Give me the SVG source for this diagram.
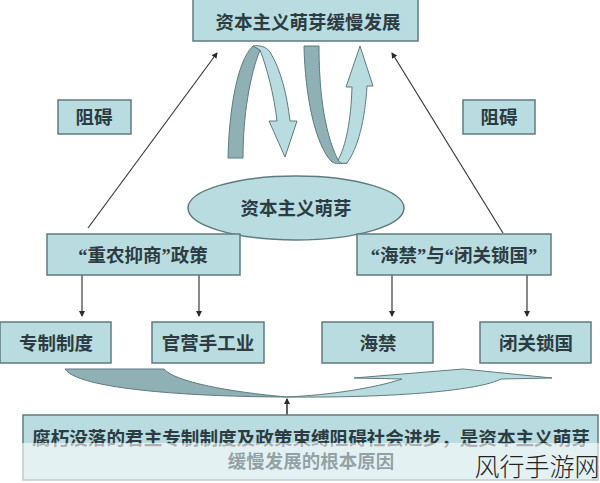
<svg xmlns="http://www.w3.org/2000/svg" width="600" height="483" viewBox="0 0 600 483">
<style>
.b{fill:#b9dce1;stroke:#5f7b80;stroke-width:1.5}
.t{font-family:"Liberation Serif","Noto Sans CJK SC",serif;font-size:18.5px;font-weight:700;fill:#2c3c42;text-anchor:middle}
.l{stroke:#3a3a3a;stroke-width:1.2;fill:none}
.d{fill:#8fb0b5;stroke:#5f7b80;stroke-width:1}
.g{fill:#b9dce1;stroke:#5f7b80;stroke-width:1}
</style>
<defs>
<marker id="a" markerWidth="6" markerHeight="6" refX="5" refY="3" orient="auto" markerUnits="userSpaceOnUse"><path d="M0 0L6 3L0 6Z" fill="#2a2a2a"/></marker>
</defs>
<rect width="600" height="483" fill="#fff"/>
<g id="connectors">
<path class="l" marker-end="url(#a)" d="M88 228L217 53"/>
<path class="l" marker-end="url(#a)" d="M503 233L392 53"/>
<path class="l" marker-end="url(#a)" d="M82 275V316"/>
<path class="l" marker-end="url(#a)" d="M199 275V316"/>
<path class="l" marker-end="url(#a)" d="M392 275V316"/>
<path class="l" marker-end="url(#a)" d="M527 275V316"/>
<path d="M287 415V399" stroke="#222" stroke-width="1.4" fill="none" marker-end="url(#a)"/>
</g>
<g id="curve-left">
<path class="d" d="M228 158C229 115 236 62 253 46L260 50C250 75 243 115 243 158Z"/>
<path class="g" d="M253 46C258 45 266 46 270 52C281 70 287 95 290 121H297L285 157L269 121H277C274 95 267 68 260 50Z"/>
</g>
<g id="curve-right">
<path class="d" d="M304 46H319C319 85 323 130 338 160L347 163C340 164 336 164 332 162C315 145 305 95 304 46Z"/>
<path class="g" d="M338 160C346 146 351 120 352 87H346L360 46L373 86H367C365 120 358 148 347 163C342 164 340 163 338 160Z"/>
</g>
<g id="swoosh">
<path d="M65 369H164C175 382 230 392 287 397C220 397 80 392 65 369Z" fill="#8fb0b5" stroke="#5f7b80"/>
<path d="M287 397C330 395 375 388 402 379L354 378L463 369L552 378L501 379C480 390 400 398 287 397Z" fill="#b9dce1" stroke="#5f7b80"/>
</g>
<g id="node-top"><rect class="b" x="193" y="-4" width="225" height="45"/><text class="t" x="308" y="29">资本主义萌芽缓慢发展</text></g>
<g id="node-block-left"><rect class="b" x="58" y="100" width="73" height="34"/><text class="t" x="94" y="124">阻碍</text></g>
<g id="node-block-right"><rect class="b" x="463" y="100" width="72" height="34"/><text class="t" x="499" y="124">阻碍</text></g>
<g id="node-ellipse"><ellipse cx="296" cy="208" rx="108" ry="32" fill="#b9dce1" stroke="#5f7b80" stroke-width="1.5"/><text class="t" x="296" y="215">资本主义萌芽</text></g>
<g id="node-policy"><rect class="b" x="47" y="234" width="193" height="41"/><text class="t" x="143" y="262">“重农抑商”政策</text></g>
<g id="node-ban"><rect class="b" x="357" y="234" width="194" height="41"/><text class="t" x="454" y="262">“海禁”与“闭关锁国”</text></g>
<g id="node-autocracy"><rect class="b" x="0" y="322" width="111" height="41"/><text class="t" x="56" y="350">专制制度</text></g>
<g id="node-official"><rect class="b" x="152" y="322" width="112" height="41"/><text class="t" x="208" y="350">官营手工业</text></g>
<g id="node-haijin"><rect class="b" x="322" y="322" width="111" height="41"/><text class="t" x="378" y="350">海禁</text></g>
<g id="node-closed"><rect class="b" x="480" y="322" width="111" height="41"/><text class="t" x="536" y="350">闭关锁国</text></g>
<g id="node-bottom">
<rect class="b" x="23" y="415" width="575" height="65"/>
<text class="t" x="311" y="445" style="font-size:18.6px">腐朽没落的君主专制制度及政策束缚阻碍社会进步，是资本主义萌芽</text>
<rect x="22" y="443" width="578" height="38" fill="#fff" fill-opacity="0.6"/>
<text class="t" x="311" y="468" fill-opacity="0.45">缓慢发展的根本原因</text>
</g>
<text x="537" y="476" font-family="Noto Sans CJK SC,sans-serif" font-size="25" font-weight="300" fill="#222" text-anchor="middle">风行手游网</text>
</svg>
